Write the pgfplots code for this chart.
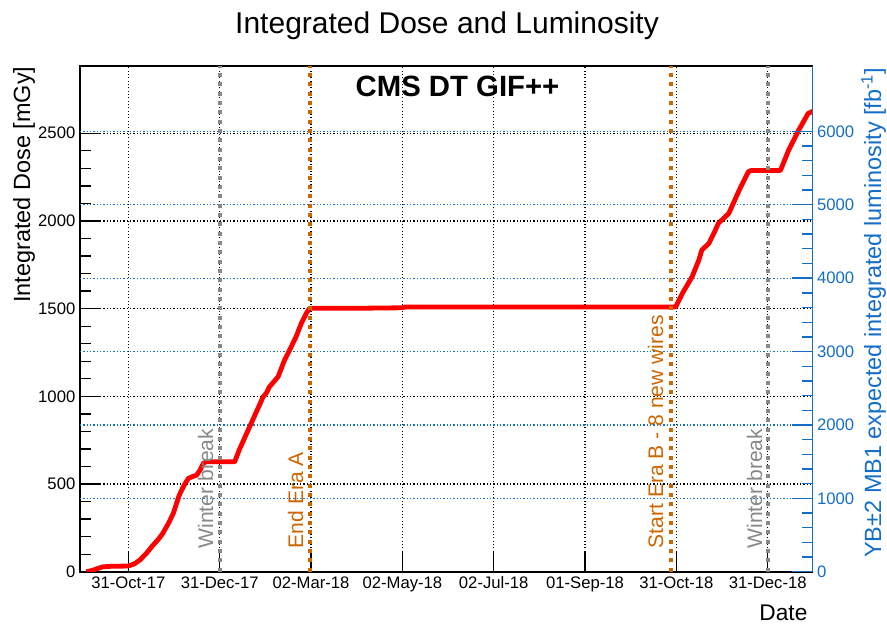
\documentclass[border=0pt]{standalone}
\usepackage{fontspec}
\setmainfont{Liberation Sans}
\usepackage{pgfplots}
\pgfplotsset{compat=1.18}
\definecolor{rootblue}{RGB}{20,110,200}
\definecolor{eraorange}{RGB}{204,102,0}
\definecolor{brkgray}{RGB}{136,136,136}

\begin{document}
\begin{tikzpicture}
\path[use as bounding box] (-60pt,-38.5pt) rectangle (605.2pt,428.8pt);
\begin{axis}[
  scale only axis, width=549.2pt, height=379.5pt,
  xmin=-32.3, xmax=456.8, ymin=0, ymax=2885,
  axis line style={line width=1.2pt, black},
  xtick={0,61,122,183,244,305,366,427},
  xticklabels={31-Oct-17,31-Dec-17,02-Mar-18,02-May-18,02-Jul-18,01-Sep-18,31-Oct-18,31-Dec-18},
  xtick pos=left, ytick pos=left,
  ytick={0,500,1000,1500,2000,2500},
  minor y tick num=4,
  tick align=inside,
  major tick length=15pt, minor tick length=8pt,
  tick style={line width=1pt, black},
  xmajorgrids, ymajorgrids,
  major grid style={black, line width=0.9pt, dash pattern=on 0.9pt off 1.6pt},
  extra y ticks={418.5,837.0,1255.4,1673.9,2092.4,2510.9},
  extra y tick labels={},
  extra y tick style={grid=major, major grid style={rootblue, line width=0.9pt, dash pattern=on 0.9pt off 1.6pt}, tick style={draw=none}},
  ticklabel style={font=\fontsize{12.5}{14}\selectfont},
  /pgf/number format/assume math mode=true,
  /pgf/number format/set thousands separator={},
]
\addplot[red, line width=3.6pt, line join=round] coordinates {
(-28,0) (-24,8) (-20,20) (-17,28) (-12,31) (-5,32) (0,33) (4,45) (7.7,67) (12,105)
(16.5,152) (20,185) (23,219) (27,280) (30,333) (34,437) (37,490) (40,532) (42.3,541)
(45.6,551) (47.9,580) (50,618) (52,627) (71,627) (74,694) (78,770) (83,865) (87,940)
(90,998) (92,1017) (94.3,1055) (100,1112) (104.3,1207) (107.7,1264) (112,1340)
(115.5,1416) (118.8,1473) (121,1502) (150,1502) (183,1505) (185,1510) (250,1510)
(365.5,1510) (370,1587) (376.5,1682) (381,1777) (383,1834) (387.7,1872) (392,1947)
(394,1986) (401,2043) (408,2176) (414,2280) (416,2288) (435.5,2288) (441,2404)
(447.7,2518) (454,2613) (457,2625)
};
\addplot[brkgray, line width=3pt, dash pattern=on 3pt off 4pt] coordinates {(61.2,0) (61.2,2885)};
\addplot[eraorange, line width=3pt, dash pattern=on 3pt off 4pt] coordinates {(121.5,0) (121.5,2885)};
\addplot[eraorange, line width=3pt, dash pattern=on 3pt off 4pt] coordinates {(362.2,0) (362.2,2885)};
\addplot[brkgray, line width=3pt, dash pattern=on 3pt off 4pt] coordinates {(427,0) (427,2885)};
\node[rotate=90, anchor=base west, text=brkgray, font=\fontsize{15.8}{18}\selectfont] at (axis cs:56.6,107) {Winter break};
\node[rotate=90, anchor=base west, text=eraorange, font=\fontsize{15.8}{18}\selectfont] at (axis cs:116.7,107) {End Era A};
\node[rotate=90, anchor=base west, text=eraorange, font=\fontsize{15.8}{18}\selectfont] at (axis cs:357.1,107) {Start Era B - 8 new wires};
\node[rotate=90, anchor=base west, text=brkgray, font=\fontsize{15.8}{18}\selectfont] at (axis cs:423.2,107) {Winter break};
\end{axis}
\begin{axis}[
  scale only axis, width=549.2pt, height=379.5pt,
  xmin=-32.3, xmax=456.8, ymin=0, ymax=6894,
  axis y line*=right, axis x line=none,
  axis line style={line width=1.2pt, rootblue},
  ytick={0,1000,2000,3000,4000,5000,6000}, minor y tick num=4,
  tick align=inside, major tick length=15pt, minor tick length=8pt,
  tick style={line width=1pt, rootblue},
  yticklabel style={text=rootblue, font=\fontsize{12.5}{14}\selectfont},
  /pgf/number format/assume math mode=true,
  /pgf/number format/set thousands separator={},
]
\end{axis}
\node[font=\fontsize{22.5}{26}\selectfont, anchor=base] at (275.25pt,404pt) {Integrated Dose and Luminosity};
\node[font=\bfseries\fontsize{22}{26}\selectfont, anchor=base] at (283.1pt,356.25pt) {CMS DT GIF++};
\node[rotate=90, anchor=base east, font=\fontsize{17.6}{20}\selectfont] at (-37.5pt,382.3pt) {Integrated Dose [mGy]};
\node[rotate=90, anchor=base east, text=rootblue, font=\fontsize{17.6}{20}\selectfont] at (600.75pt,381.5pt) {YB±2 MB1 expected integrated luminosity [fb\textsuperscript{-1}]};
\node[anchor=base east, font=\fontsize{17}{20}\selectfont] at (549pt,-36.2pt) {Date};
\end{tikzpicture}
\end{document}
